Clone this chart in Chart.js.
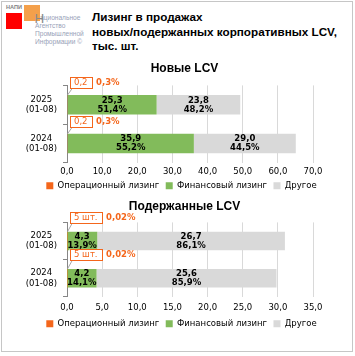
<!DOCTYPE html>
<html>
<head>
<meta charset="utf-8">
<script src="https://cdn.jsdelivr.net/npm/chart.js@4/dist/chart.umd.min.js"></script>
<style>
  html, body { margin: 0; padding: 0; background: #fff; }
  body { width: 355px; height: 356px; position: relative; overflow: hidden; }
  #frame { position: absolute; left: 1px; top: 1px; width: 350px; height: 349px; border: 1px solid #c6c6c6; }
  .abs { position: absolute; white-space: nowrap; }
  #napi { left: 6px; top: 3.5px; font: bold 5.6px "Liberation Sans", sans-serif; color: #7f7f7f; }
  #red { left: 6px; top: 13px; width: 16px; height: 16px; background: #ff0000; }
  #orange { left: 24px; top: 5px; width: 16px; height: 16px; background: rgba(243,150,55,0.9); }
  #bigH { left: 34.5px; top: 11px; font: 13.5px "Liberation Sans", sans-serif; color: #8a8a8a; }
  #org1 { left: 40px; top: 13.5px; font: 6.6px "Liberation Sans", sans-serif; color: #98a2b8; line-height: 8px; }
  #org2 { left: 35px; top: 21.5px; font: 6.6px "Liberation Sans", sans-serif; color: #98a2b8; line-height: 8px; }
  #maintitle { left: 92px; top: 10px; font: bold 11.7px "Liberation Sans", Arial, sans-serif; color: #000; line-height: 14.5px; }
  canvas { position: absolute; left: 0; }
</style>
</head>
<body>
<div id="frame"></div>
<div class="abs" id="napi">НАПИ</div>
<div class="abs" id="red"></div>
<div class="abs" id="orange"></div>
<div class="abs" id="org1">ациональное</div>
<div class="abs" id="org2">Агентство<br>Промышленной<br>Информации ©</div>
<div class="abs" id="bigH">Н</div>
<div class="abs" id="maintitle">Лизинг в продажах<br>новых/подержанных корпоративных LCV,<br>тыс. шт.</div>
<canvas id="c1" width="355" height="142" style="top:58px"></canvas>
<canvas id="c2" width="355" height="142" style="top:196px"></canvas>
<script>
// ---- Data ----
const categories = [['2025', '(01-08)'], ['2024', '(01-08)']];
const seriesNames = ['Операционный лизинг', 'Финансовый лизинг', 'Другое'];

// Новые LCV (тыс. шт.)
const newOperational = [0.2, 0.2];
const newFinancial = [25.3, 35.9];
const newOther = [23.8, 29.0];
const newFinancialPct = [51.4, 55.2];
const newOtherPct = [48.2, 44.5];
const newOperationalLabels = ['0,2', '0,2'];
const newOperationalPctLabels = ['0,3%', '0,3%'];
const newTicks = { min: 0, max: 70, step: 10 };

// Подержанные LCV (тыс. шт.)
const usedOperational = [0.005, 0.005];
const usedFinancial = [4.3, 4.2];
const usedOther = [26.7, 25.6];
const usedFinancialPct = [13.9, 14.1];
const usedOtherPct = [86.1, 85.9];
const usedOperationalLabels = ['5 шт.', '5 шт.'];
const usedOperationalPctLabels = ['0,02%', '0,02%'];
const usedTicks = { min: 0, max: 35, step: 5 };

// ---- Styles ----
const COLORS = ['#f4661b', '#82bb5b', '#d9d9d9'];
const ORANGE_TEXT = '#f4661b';
const FONT = '"DejaVu Sans", Verdana, sans-serif';
const fmt1 = v => v.toFixed(1).replace('.', ',');
const LEGEND_SHRINK = 6;

const calloutPlugin = {
  id: 'callouts',
  beforeLayout(chart) {
    const lg = chart.legend;
    if (lg && !lg._patched) {
      const orig = lg.fit.bind(lg);
      lg.fit = function () { orig(); this.height -= LEGEND_SHRINK; };
      lg._patched = true;
    }
  },
  afterLayout(chart) {
    const lg = chart.legend;
    if (lg) { lg.left += 25; lg.right += 25; lg.top -= LEGEND_SHRINK; lg.bottom -= LEGEND_SHRINK; }
    const tb = chart.titleBlock;
    if (tb) { tb.left += 28; tb.right += 28; }
  },
  afterDatasetsDraw(chart, args, opts) {
    const ctx = chart.ctx;
    ctx.save();
    [1, 2].forEach(di => {
      const meta = chart.getDatasetMeta(di);
      const ds = chart.data.datasets[di];
      meta.data.forEach((bar, i) => {
        const p = bar.getProps(['x', 'y', 'base'], true);
        const cx = (p.x + p.base) / 2;
        ctx.fillStyle = '#000';
        ctx.font = 'bold 8.5px ' + FONT;
        ctx.textAlign = 'center';
        ctx.textBaseline = 'middle';
        ctx.fillText(fmt1(ds.data[i]), cx, p.y - 4.3);
        ctx.fillText(fmt1(opts.pcts[di][i]) + '%', cx, p.y + 4.6);
      });
    });
    const meta0 = chart.getDatasetMeta(0);
    meta0.data.forEach((bar, i) => {
      const p = bar.getProps(['x', 'y', 'base', 'height'], true);
      const barTop = p.y - p.height / 2;
      const left = p.base + 2;
      const bottom = barTop - opts.gap;
      const h = 11;
      ctx.font = '8.5px ' + FONT;
      const tw = ctx.measureText(opts.boxTexts[i]).width;
      const w = tw + 8;
      ctx.strokeStyle = '#a6a6a6';
      ctx.lineWidth = 1;
      ctx.beginPath();
      ctx.moveTo(p.base, barTop);
      ctx.lineTo(left + 3, bottom);
      ctx.stroke();
      ctx.fillStyle = '#fff';
      ctx.fillRect(left, bottom - h, w, h);
      ctx.strokeStyle = ORANGE_TEXT;
      ctx.strokeRect(Math.round(left) + 0.5, Math.round(bottom - h) + 0.5, Math.round(w), h);
      ctx.fillStyle = ORANGE_TEXT;
      ctx.textAlign = 'center';
      ctx.textBaseline = 'middle';
      ctx.fillText(opts.boxTexts[i], left + w / 2 + 0.5, bottom - h / 2 + 0.5);
      ctx.font = 'bold 8.5px ' + FONT;
      ctx.textAlign = 'left';
      ctx.fillText(opts.pctTexts[i], left + w + 5, bottom - h / 2 + 0.5);
    });
    ctx.restore();
  }
};

function makeChart(id, title, oper, fin, other, finPct, otherPct, boxTexts, pctTexts, ticks, gap, lay) {
  return new Chart(document.getElementById(id), {
    type: 'bar',
    data: {
      labels: categories,
      datasets: [
        { label: seriesNames[0], data: oper, backgroundColor: COLORS[0] },
        { label: seriesNames[1], data: fin, backgroundColor: COLORS[1] },
        { label: seriesNames[2], data: other, backgroundColor: COLORS[2] }
      ]
    },
    options: {
      indexAxis: 'y',
      responsive: false,
      animation: false,
      devicePixelRatio: 1,
      barPercentage: 0.5,
      categoryPercentage: 1.0,
      layout: { padding: { left: 0, right: 42, top: 0, bottom: 0 } },
      scales: {
        x: {
          stacked: true,
          min: ticks.min, max: ticks.max,
          ticks: { stepSize: ticks.step, callback: v => fmt1(v), font: { family: FONT, size: 8.5 }, color: '#000', padding: lay.xPad, maxRotation: 0 },
          grid: { color: ctx => (ctx.tick && ctx.tick.value === 0) ? 'rgba(0,0,0,0)' : '#d9d9d9', drawTicks: false },
          border: { display: false }
        },
        y: {
          stacked: true,
          afterFit: s => { s.width = 67; },
          ticks: { font: { family: FONT, size: 8.5 }, color: '#000', crossAlign: 'center', padding: 6 },
          grid: { drawOnChartArea: false, drawTicks: true, tickLength: 4, color: '#868686', offset: true },
          border: { display: true, color: '#868686' }
        }
      },
      plugins: {
        title: { display: true, text: title, font: { family: '"Liberation Sans", Arial, sans-serif', size: 12, weight: 'bold' }, color: '#000', padding: { top: 3, bottom: lay.titleBottom } },
        legend: {
          position: 'bottom',
          labels: { boxWidth: 7, boxHeight: 7, padding: 6.5, font: { family: FONT, size: 8.5 }, color: '#000' }
        },
        tooltip: { enabled: false },
        callouts: { pcts: { 1: finPct, 2: otherPct }, boxTexts, pctTexts, gap }
      }
    },
    plugins: [calloutPlugin]
  });
}

makeChart('c1', 'Новые LCV', newOperational, newFinancial, newOther, newFinancialPct, newOtherPct,
  newOperationalLabels, newOperationalPctLabels, newTicks, 7, { xPad: 4, titleBottom: 10 });
makeChart('c2', 'Подержанные LCV', usedOperational, usedFinancial, usedOther, usedFinancialPct, usedOtherPct,
  usedOperationalLabels, usedOperationalPctLabels, usedTicks, 9, { xPad: 6, titleBottom: 9 });
</script>
</body>
</html>
